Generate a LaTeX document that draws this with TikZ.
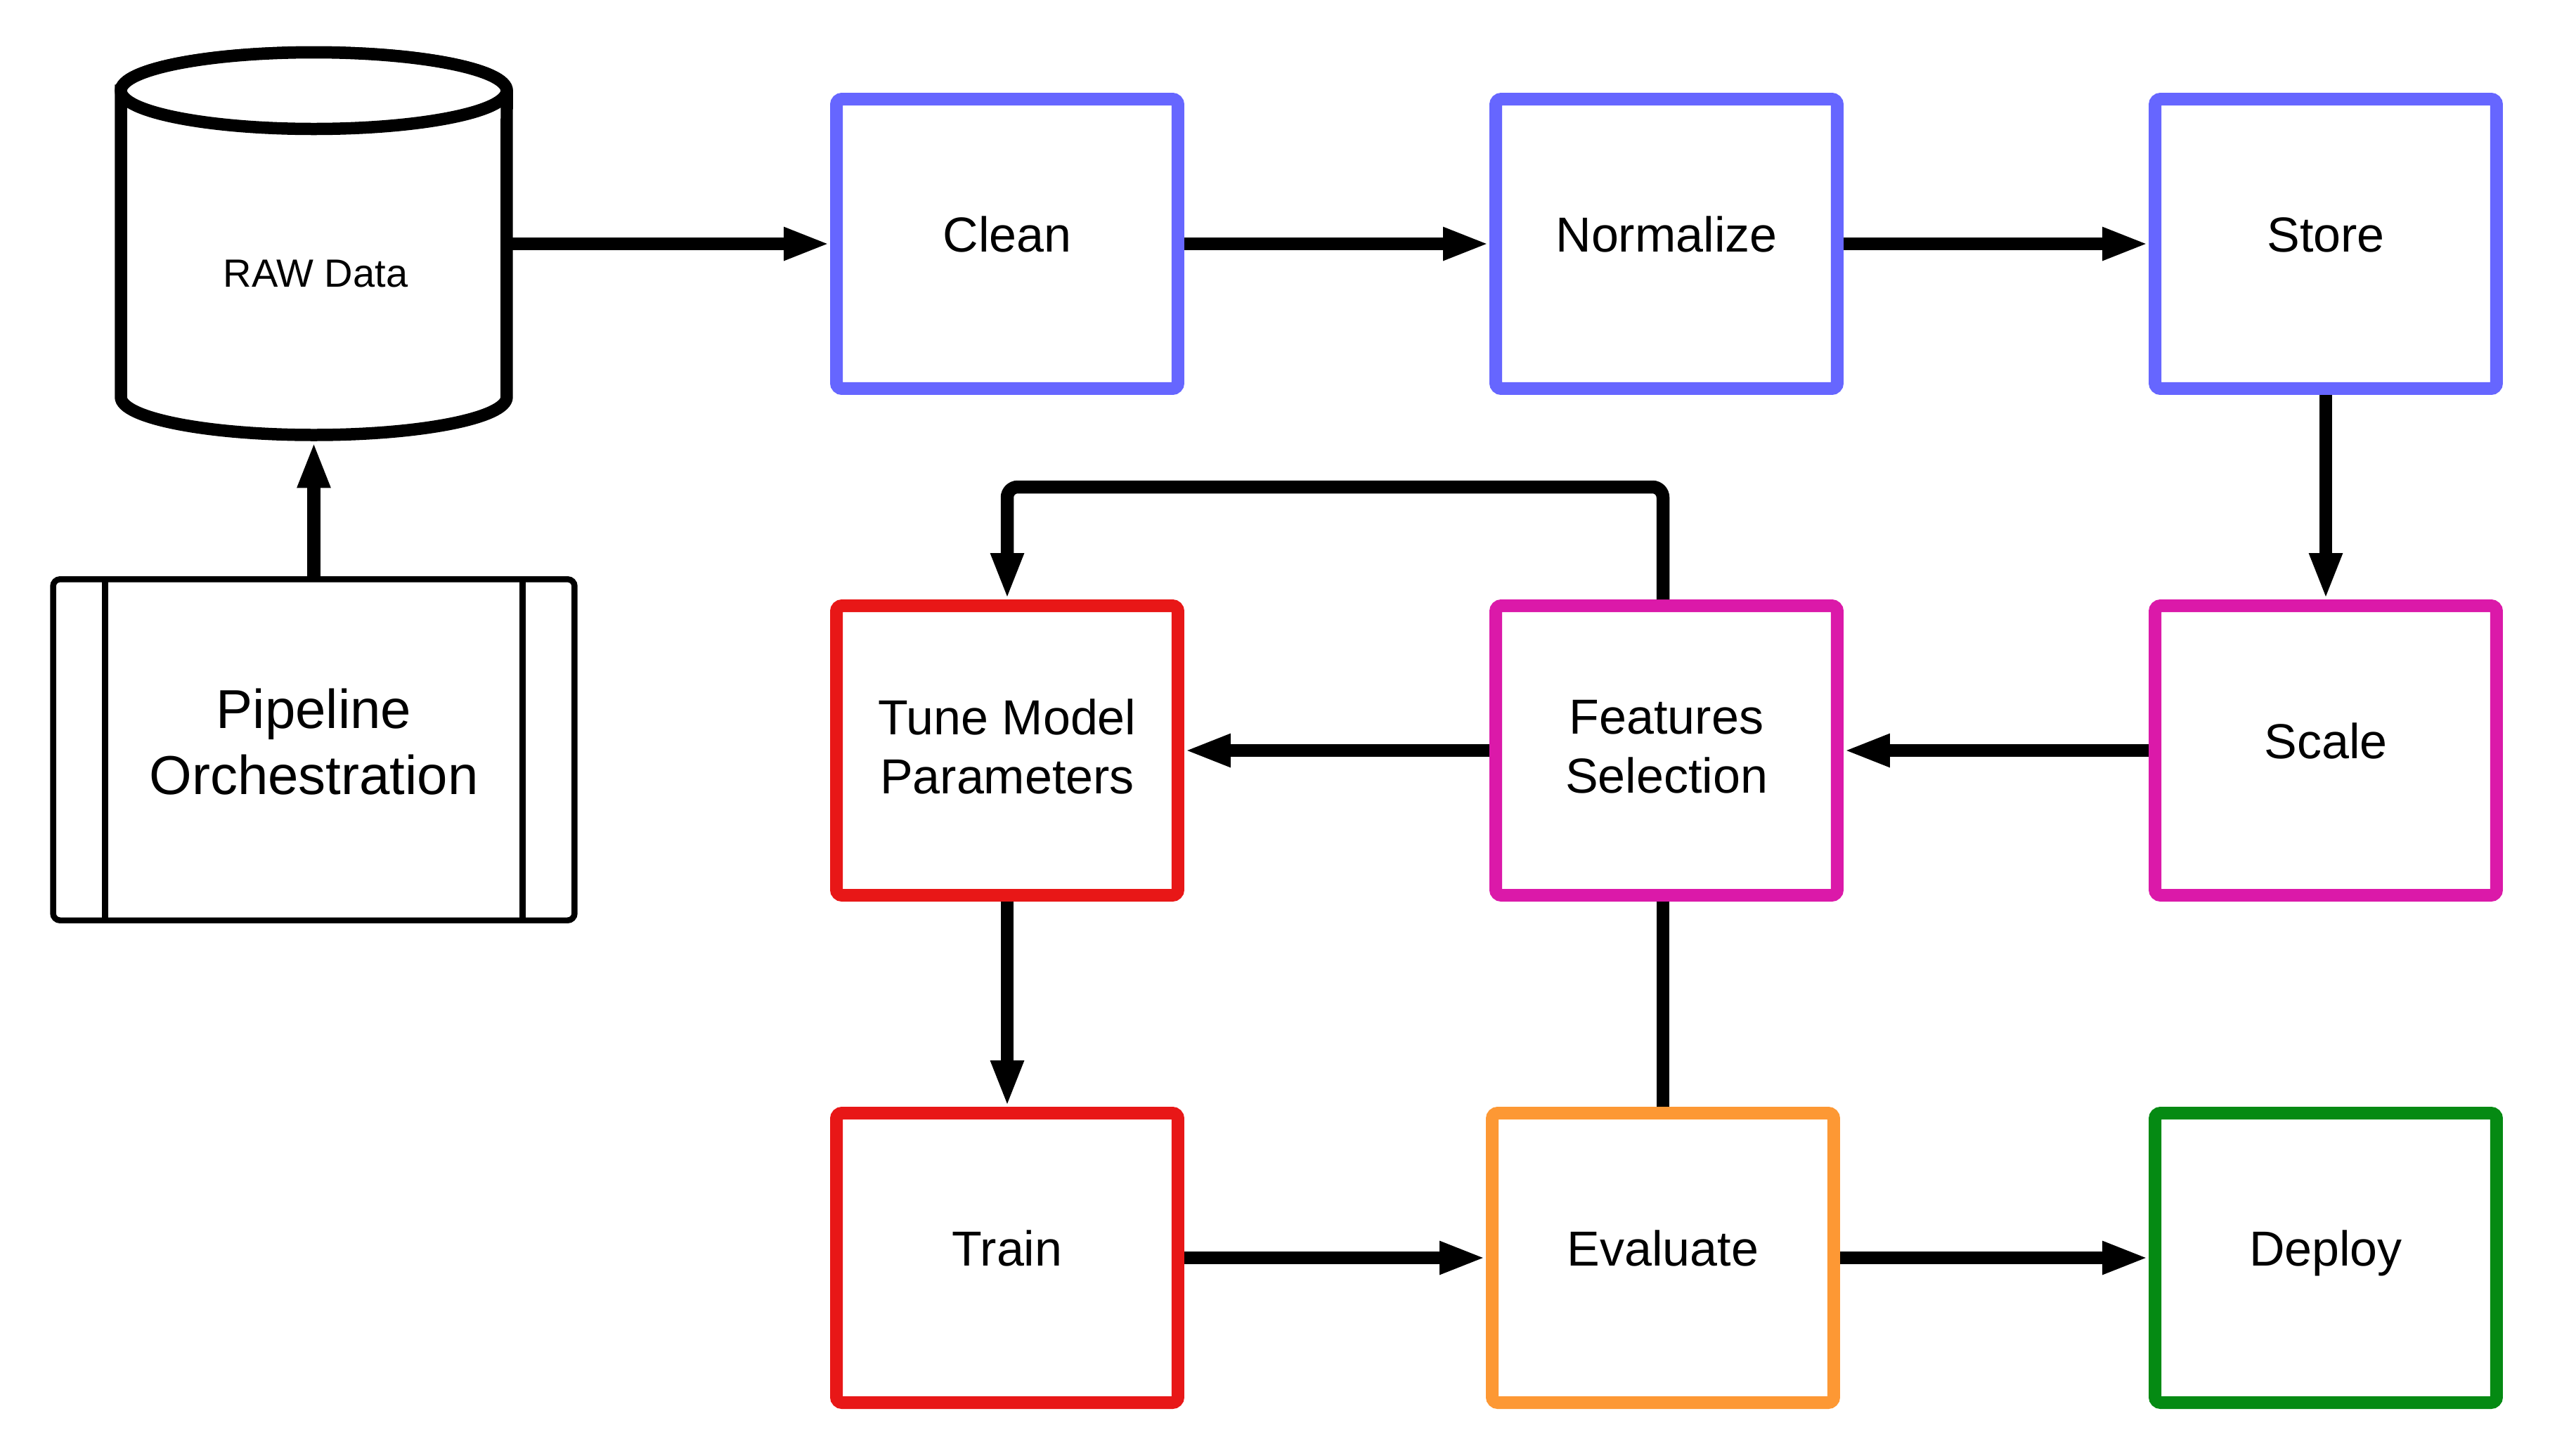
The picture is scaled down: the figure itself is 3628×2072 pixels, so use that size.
\documentclass[tikz,border=0pt]{standalone}
\usepackage{fontspec}
\setmainfont{Liberation Sans}
\usetikzlibrary{arrows.meta,calc}
\definecolor{cblue}{HTML}{6666FF}
\definecolor{cmag}{HTML}{DB19A9}
\definecolor{cred}{HTML}{E81717}
\definecolor{corange}{HTML}{FD9834}
\definecolor{cgreen}{HTML}{058A13}
\begin{document}
\begin{tikzpicture}[x=0.1pt,y=-0.1pt,
  box/.style={draw, line width=1.8pt, rounded corners=0.8pt, fill=white,
    minimum width=48.6pt, minimum height=41.2pt, inner sep=0pt,
    font=\fontsize{7}{8.46}\selectfont, align=center},
  oneline/.style={text height=5.1pt, text depth=2.8pt},
  conn/.style={line width=1.85pt},
  arr/.style={conn, -{Triangle[length=6.6pt,width=4.3pt]}},
  cylline/.style={line width=1.75pt},
]
\fill[white] (0,0) rectangle (3628,2072);
\useasboundingbox (0,0) rectangle (3628,2072);

% cylinder (RAW Data)
\node[minimum width=56.6pt, minimum height=56.3pt, inner sep=0pt, outer sep=0pt] (raw) at (446.5,347) {};
\draw[cylline, fill=white] (172,129) -- (172,565)
  arc[start angle=180, end angle=360, x radius=27.45pt, y radius=5.4pt]
  -- (721,129)
  arc[start angle=0, end angle=180, x radius=27.45pt, y radius=5.45pt] -- cycle;
\draw[cylline, fill=white] (446.5,129) ellipse [x radius=27.45pt, y radius=5.45pt];
\node[font=\fontsize{5.6}{6.8}\selectfont, anchor=base, inner sep=0pt] (rawtxt) at (449,408) {RAW Data};

% pipeline orchestration
\node[draw, line width=0.85pt, rounded corners=1pt, minimum width=74.2pt, minimum height=48.55pt,
  inner sep=0pt, outer sep=0pt, align=center, font=\fontsize{7.8}{9.46}\selectfont]
  (pipe) at (446.5,1067) {Pipeline\\Orchestration\rule[-2.34pt]{0pt}{0pt}};
\draw[line width=0.85pt] ([xshift=7.4pt]pipe.north west) -- ([xshift=7.4pt]pipe.south west);
\draw[line width=0.85pt] ([xshift=-7.4pt]pipe.north east) -- ([xshift=-7.4pt]pipe.south east);

% boxes
\node[box, draw=cblue, oneline] (clean) at (1433,347) {Clean};
\node[box, draw=cblue, oneline] (norm) at (2371,347) {Normalize};
\node[box, draw=cblue, oneline] (store) at (3309,347) {Store};
\node[box, draw=cmag, oneline] (scale) at (3309,1068) {Scale};
\node[box, draw=cmag] (feat) at (2371,1068) {Features\\Selection\rule[-1.14pt]{0pt}{0pt}};
\node[box, draw=cred] (tune) at (1433,1068) {Tune Model\\Parameters\rule[-1.14pt]{0pt}{0pt}};
\node[box, draw=cred, oneline] (train) at (1433,1790) {Train};
\node[box, draw=corange, oneline] (eval) at (2366,1790) {Evaluate};
\node[box, draw=cgreen, oneline] (deploy) at (3309,1790) {Deploy};

% connectors
\draw[arr] (pipe.north) -- (raw.south);
\draw[arr] (raw.east) -- (clean.west);
\draw[arr] (clean.east) -- (norm.west);
\draw[arr] (norm.east) -- (store.west);
\draw[arr] (store.south) -- (scale.north);
\draw[arr] (scale.west) -- (feat.east);
\draw[arr] (feat.west) -- (tune.east);
\draw[arr] (tune.south) -- (train.north);
\draw[arr] (train.east) -- (eval.west);
\draw[arr] (eval.east) -- (deploy.west);
\draw[conn] (feat.south -| eval.north) -- (eval.north);
\coordinate (loopy) at (0,693);
\draw[arr, rounded corners=1.5pt] (feat.north -| eval.north) |- (loopy -| tune.north) -- (tune.north);
\end{tikzpicture}
\end{document}
